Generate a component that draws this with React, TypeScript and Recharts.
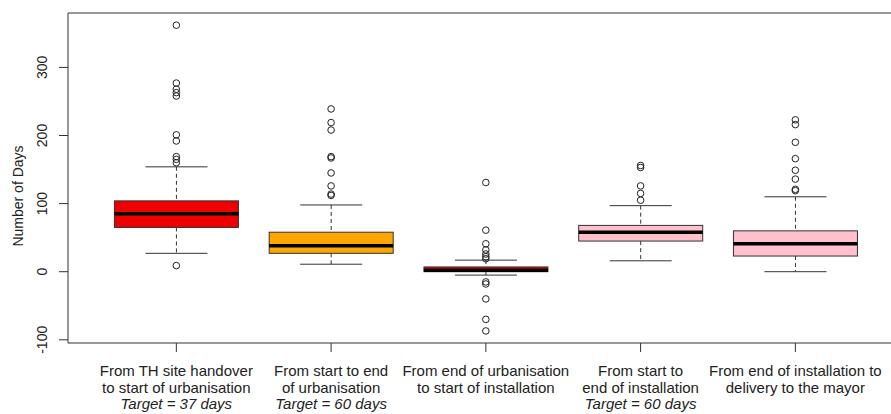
import { ComposedChart, Bar, Scatter, XAxis, YAxis, ReferenceLine } from 'recharts';

const FONT = '"Liberation Sans", Arial, Helvetica, sans-serif';
const INK = '#333';

// one entry per box, in plotting order
const positions = [1, 2, 3, 4, 5];
const labelLines = [
  ['From TH site handover', 'to start of urbanisation', 'Target = 37 days'],
  ['From start to end', 'of urbanisation', 'Target = 60 days'],
  ['From end of urbanisation', 'to start of installation'],
  ['From start to', 'end of installation', 'Target = 60 days'],
  ['From end of installation to', 'delivery to the mayor'],
];
const lowerWhisker = [27, 11, -5, 16, 0];
const lowerQuartile = [65, 27, 0, 45, 23];
const medians = [85, 38, 2, 58, 41];
const upperQuartile = [104, 58, 7, 68, 60];
const upperWhisker = [154, 98, 17, 97, 110];
const boxColors = ['#EE0000', '#FFA500', '#EE0000', '#FFC0CB', '#FFC0CB'];

const outliers1 = [9, 160, 165, 169, 192, 201, 258, 263, 268, 277, 362];
const outliers2 = [112, 114, 126, 145, 167, 169, 208, 219, 239];
const outliers3 = [-87, -70, -40, -18, -15, 19, 22, 26, 32, 41, 61, 131];
const outliers4 = [105, 115, 126, 153, 156];
const outliers5 = [119, 121, 136, 149, 166, 190, 216, 223];

const yTicks = [-100, 0, 100, 200, 300];
const Y_MIN = -104.7;
const Y_MAX = 379.9;
const X_MIN = 0.3;
const X_MAX = 5.618;

const boxData = positions.map((p, i) => ({
  x: p,
  range: [lowerWhisker[i], upperWhisker[i]],
  q1: lowerQuartile[i],
  med: medians[i],
  q3: upperQuartile[i],
  color: boxColors[i],
}));

const outlierData = [outliers1, outliers2, outliers3, outliers4, outliers5].flatMap((vals, i) =>
  vals.map(v => ({ x: positions[i], y: v }))
);

const BoxShape = (props: any) => {
  const { x, y, width, height, payload } = props;
  const [lo, hi] = payload.range;
  const top = Math.min(y, y + height);
  const h = Math.abs(height);
  const k = h / (hi - lo);
  const py = (v: number) => top + (hi - v) * k;
  const cx = x + width / 2;
  const cap = width / 4;
  return (
    <g>
      <line x1={cx} x2={cx} y1={py(hi)} y2={py(payload.q3)} stroke={INK} strokeDasharray="4 3" />
      <line x1={cx} x2={cx} y1={py(payload.q1)} y2={py(lo)} stroke={INK} strokeDasharray="4 3" />
      <line x1={cx - cap} x2={cx + cap} y1={py(hi)} y2={py(hi)} stroke={INK} />
      <line x1={cx - cap} x2={cx + cap} y1={py(lo)} y2={py(lo)} stroke={INK} />
      <rect
        x={x}
        y={py(payload.q3)}
        width={width}
        height={py(payload.q1) - py(payload.q3)}
        fill={payload.color}
        stroke={INK}
      />
      <line x1={x} x2={x + width} y1={py(payload.med)} y2={py(payload.med)} stroke="#000" strokeWidth={3.5} />
    </g>
  );
};

const OutlierDot = (props: any) => (
  <circle cx={props.cx} cy={props.cy} r={3.3} fill="none" stroke="#222" strokeWidth={1} />
);

const XTick = (props: any) => {
  const { x, y, payload } = props;
  const lines = labelLines[positions.indexOf(payload.value)] || [];
  return (
    <text x={x} y={y} textAnchor="middle" fontFamily={FONT} fontSize={15} fill="#222">
      {lines.map((line, i) => (
        <tspan key={i} x={x} y={y + 24 + i * 16.5} fontStyle={line.startsWith('Target') ? 'italic' : 'normal'}>
          {line}
        </tspan>
      ))}
    </text>
  );
};

const YTick = (props: any) => {
  const { y, payload } = props;
  const bx = 47;
  return (
    <text
      x={bx}
      y={y}
      transform={`rotate(-90, ${bx}, ${y})`}
      textAnchor="middle"
      fontFamily={FONT}
      fontSize={14}
      fill="#222"
    >
      {payload.value}
    </text>
  );
};

const YTitle = () => (
  <text
    x={23}
    y={196}
    transform="rotate(-90, 23, 196)"
    textAnchor="middle"
    fontFamily={FONT}
    fontSize={14}
    fill="#222"
  >
    Number of Days
  </text>
);

export default function App() {
  return (
    <div style={{ position: 'absolute', left: 0, top: 0, width: 891, height: 414, overflow: 'hidden', background: '#fff' }}>
      <ComposedChart
        width={891}
        height={414}
        data={boxData}
        margin={{ top: 13, right: 0, bottom: 0, left: 0 }}
        barCategoryGap="10%"
      >
        <XAxis
          dataKey="x"
          type="number"
          domain={[X_MIN, X_MAX]}
          ticks={positions}
          allowDataOverflow
          height={71}
          stroke={INK}
          tickSize={9}
          tickMargin={0}
          tick={<XTick />}
          interval={0}
        />
        <YAxis
          type="number"
          domain={[Y_MIN, Y_MAX]}
          ticks={yTicks}
          allowDataOverflow
          width={68}
          stroke={INK}
          tickSize={9}
          tick={<YTick />}
          interval={0}
          label={{ content: () => <YTitle /> }}
        />
        <ReferenceLine y={Y_MAX} stroke={INK} ifOverflow="visible" />
        <Bar dataKey="range" shape={<BoxShape />} isAnimationActive={false} />
        <Scatter data={outlierData} dataKey="y" shape={<OutlierDot />} isAnimationActive={false} />
      </ComposedChart>
    </div>
  );
}
